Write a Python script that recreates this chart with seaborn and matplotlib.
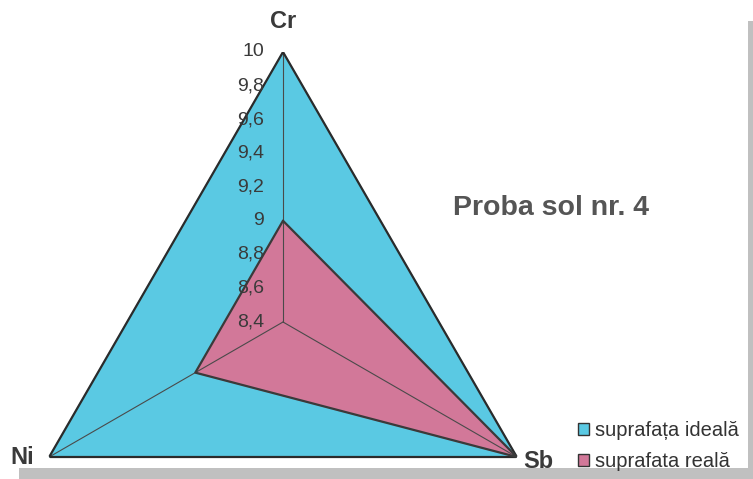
import numpy as np
import pandas as pd
import matplotlib.pyplot as plt
import seaborn as sns
from matplotlib.patches import Patch, Rectangle

# chart data
elements = ['Cr', 'Sb', 'Ni']
ideal = [10, 10, 10]
real = [9, 10, 9]
r_ticks = [8.4, 8.6, 8.8, 9.0, 9.2, 9.4, 9.6, 9.8, 10]
r_tick_labels = ['8,4', '8,6', '8,8', '9', '9,2', '9,4', '9,6', '9,8', '10']
series_names = ['suprafața ideală', 'suprafata reală']
title = 'Proba sol nr. 4'

sns.set_style('white')
plt.rcParams['font.family'] = ['Liberation Sans', 'DejaVu Sans']

W, H = 753, 479
fig = plt.figure(figsize=(W / 100, H / 100), dpi=100)
fig.patch.set_facecolor('white')

# polar axes centred on the triangle (pixel geometry of the reference)
cx, cy, rad = 283, 322, 270
ax = fig.add_axes([(cx - rad) / W, (H - cy - rad) / H, 2 * rad / W, 2 * rad / H],
                  projection='polar')
ax.set_theta_offset(np.pi / 2)
ax.set_theta_direction(-1)
ax.set_facecolor('none')

angles = np.linspace(0, 2 * np.pi, len(elements), endpoint=False)
closed = np.append(angles, 2 * np.pi)

df = pd.DataFrame({
    'theta': np.concatenate([closed, closed]),
    'value': ideal + ideal[:1] + real + real[:1],
    'series': [series_names[0]] * 4 + [series_names[1]] * 4,
})

cyan = '#5ac9e3'
pink = '#d27899'
ax.fill(closed, ideal + ideal[:1], color=cyan, zorder=1)
ax.fill(closed, real + real[:1], color=pink, zorder=1.2)
sns.lineplot(data=df, x='theta', y='value', hue='series', sort=False, estimator=None,
             palette=['#2b2b2b', '#3a3a3a'], linewidth=1.6, legend=False,
             ax=ax, zorder=3)

ax.set_ylim(8.4, 10)
ax.set_yticks(r_ticks)
ax.set_yticklabels([])
ax.set_xticks(angles)
ax.set_xticklabels([])
ax.yaxis.grid(False)
ax.xaxis.grid(True, color='#4a4a4a', linewidth=0.8)
ax.set_axisbelow(False)
ax.spines['polar'].set_visible(False)
ax.set_xlabel('')
ax.set_ylabel('')

# radial tick labels along the Cr spoke
for v, lab in zip(r_ticks, r_tick_labels):
    ax.annotate(lab, xy=(0, v), xytext=(-13.5, 0), textcoords='offset points',
                ha='right', va='center', fontsize=14, color='#3a3a3a',
                annotation_clip=False)

# category labels
offsets = {'Cr': ((0, 22), 'center'), 'Sb': ((4.5, -3.5), 'left'), 'Ni': ((-11, 0), 'right')}
for ang, name in zip(angles, elements):
    off, ha = offsets[name]
    ax.annotate(name, xy=(ang, 10), xytext=off, textcoords='offset points',
                ha=ha, va='center', fontsize=17, fontweight='bold', color='#3a3a3a',
                annotation_clip=False)

fig.text(453 / W, (H - 215) / H, title, fontsize=20.5, fontweight='bold',
         color='#555555', ha='left', va='baseline')

handles = [Patch(facecolor=cyan, edgecolor='#333333', linewidth=1.0),
           Patch(facecolor=pink, edgecolor='#333333', linewidth=1.0)]
fig.legend(handles, series_names, loc='center left',
           bbox_to_anchor=(578 / W, (H - 446) / H), frameon=False,
           fontsize=14.5, handlelength=0.55, handleheight=0.55,
           handletextpad=0.3, labelspacing=0.6, borderpad=0, borderaxespad=0,
           labelcolor='#333333')

# grey frame edges of the scanned image
fig.patches.append(Rectangle((748 / W, 0), 5 / W, (H - 21) / H, transform=fig.transFigure,
                             facecolor='#c0c0c0', edgecolor='none', zorder=0))
fig.patches.append(Rectangle((19 / W, 0), (W - 19) / W, 11 / H, transform=fig.transFigure,
                             facecolor='#c0c0c0', edgecolor='none', zorder=0))

fig.savefig('out.png', dpi=100)
